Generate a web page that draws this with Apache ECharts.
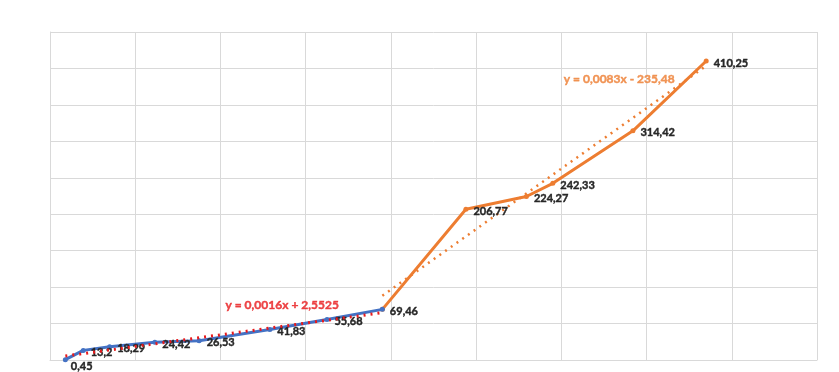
<!DOCTYPE html>
<html>
<head>
<meta charset="utf-8">
<script src="https://cdn.jsdelivr.net/npm/echarts@6/dist/echarts.min.js"></script>
<style>html,body{margin:0;padding:0;background:#fff}#c{width:839px;height:372px}</style>
</head>
<body>
<div id="c"></div>
<script>
// Series 1 (blue)
const blueX = [1800, 3900, 7000, 12300, 17500, 25800, 32500, 39000];
const blueY = [0.45, 13.2, 18.29, 24.42, 26.53, 41.83, 55.68, 69.46];
// Series 2 (orange)
const orangeX = [39000, 48800, 55900, 59000, 68400, 77000];
const orangeY = [69.46, 206.77, 224.27, 242.33, 314.42, 410.25];
// Trendline coefficients (as displayed)
const blueTrend = { slope: 0.0016, intercept: 2.5525, text: 'y = 0,0016x + 2,5525' };
const orangeTrend = { slope: 0.0083, intercept: -235.48, text: 'y = 0,0083x - 235,48' };

const FONT = 'Lato';
const zip = (xs, ys) => xs.map((x, i) => [x, ys[i]]);
const trendPts = (xs, t) => [xs[0], xs[xs.length - 1]].map(x => [x, t.slope * x + t.intercept]);
const fmt = p => String(p.value[1]).replace('.', ',');
const lblFont = { fontFamily: FONT, fontWeight: 'bold', fontSize: 11, color: '#262626',
                  textBorderColor: '#262626', textBorderWidth: 0.4 };

const bluePts = zip(blueX, blueY).map((p, i) => i === 0 ? { value: p, label: { offset: [-2, 7] } } : p);
// first orange point shares the last blue point; label it only once
const orangePts = zip(orangeX, orangeY).map((p, i) => i === 0 ? { value: p, label: { show: false } } : p);
const bT = trendPts(blueX, blueTrend);
const oT = trendPts(orangeX, orangeTrend);

const chart = echarts.init(document.getElementById('c'));
chart.setOption({
  animation: false,
  backgroundColor: '#fff',
  grid: { left: 50, right: 22, top: 32, bottom: 12 },
  xAxis: {
    type: 'value', min: 0, max: 90000, interval: 10000,
    axisLabel: { show: false }, axisTick: { show: false },
    axisLine: { show: true, lineStyle: { color: '#d9d9d9' } },
    splitLine: { show: true, lineStyle: { color: '#d9d9d9' } }
  },
  yAxis: {
    type: 'value', min: 0, max: 450, interval: 50,
    axisLabel: { show: false }, axisTick: { show: false },
    axisLine: { show: true, lineStyle: { color: '#d9d9d9' } },
    splitLine: { show: true, lineStyle: { color: '#d9d9d9' } }
  },
  series: [
    {
      type: 'line', data: oT, symbol: 'none', z: 2, silent: true,
      lineStyle: { color: '#ED7D31', width: 2.5, type: [2, 5] }
    },
    {
      type: 'line', data: orangePts, z: 3,
      symbol: 'circle', symbolSize: 5,
      itemStyle: { color: '#ED7D31' },
      lineStyle: { color: '#ED7D31', width: 3 },
      label: Object.assign({ show: true, position: 'right', offset: [0, 2], formatter: fmt }, lblFont)
    },
    {
      type: 'line', data: bluePts, z: 4,
      symbol: 'circle', symbolSize: 5,
      itemStyle: { color: '#4472C4' },
      lineStyle: { color: '#4472C4', width: 3 },
      label: Object.assign({ show: true, position: 'right', offset: [0, 2], formatter: fmt }, lblFont)
    },
    {
      type: 'line', data: bT, symbol: 'none', z: 5, silent: true,
      lineStyle: { color: '#E8191B', width: 3, type: [2, 5] }
    },
    {
      type: 'scatter', z: 6, symbolSize: 1, silent: true, itemStyle: { color: 'rgba(0,0,0,0)' },
      data: [oT[1]],
      label: { show: true, position: 'left', distance: 0, offset: [-31, 13], formatter: orangeTrend.text,
               fontFamily: FONT, fontWeight: 'bold', fontSize: 12, color: '#ED7D31',
               textBorderColor: '#ED7D31', textBorderWidth: 0.4 }
    },
    {
      type: 'scatter', z: 6, symbolSize: 1, silent: true, itemStyle: { color: 'rgba(0,0,0,0)' },
      data: [bT[1]],
      label: { show: true, position: 'left', distance: 0, offset: [-43, -8], formatter: blueTrend.text,
               fontFamily: FONT, fontWeight: 'bold', fontSize: 12, color: '#E8191B',
               textBorderColor: '#E8191B', textBorderWidth: 0.4 }
    }
  ]
});
</script>
</body>
</html>
